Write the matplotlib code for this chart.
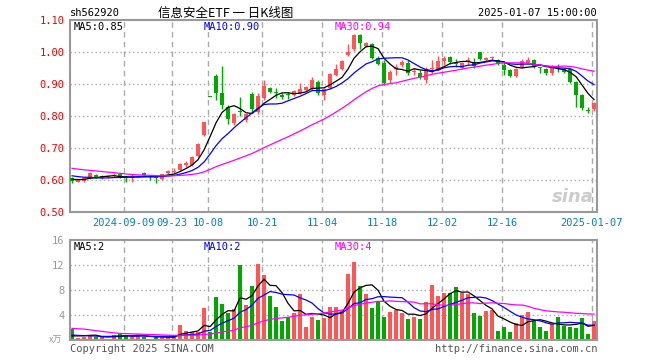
import numpy as np
import pandas as pd
import matplotlib
matplotlib.use('Agg')
import matplotlib.pyplot as plt

# trading days shown on the chart
dates = ['2024-08-27', '2024-08-28', '2024-08-29', '2024-08-30',
         '2024-09-02', '2024-09-03', '2024-09-04', '2024-09-05', '2024-09-06',
         '2024-09-09', '2024-09-10', '2024-09-11', '2024-09-12', '2024-09-13',
         '2024-09-18', '2024-09-19', '2024-09-20',
         '2024-09-23', '2024-09-24', '2024-09-25', '2024-09-26', '2024-09-27', '2024-09-30',
         '2024-10-08', '2024-10-09', '2024-10-10', '2024-10-11',
         '2024-10-14', '2024-10-15', '2024-10-16', '2024-10-17', '2024-10-18',
         '2024-10-21', '2024-10-22', '2024-10-23', '2024-10-24', '2024-10-25',
         '2024-10-28', '2024-10-29', '2024-10-30', '2024-10-31', '2024-11-01',
         '2024-11-04', '2024-11-05', '2024-11-06', '2024-11-07', '2024-11-08',
         '2024-11-11', '2024-11-12', '2024-11-13', '2024-11-14', '2024-11-15',
         '2024-11-18', '2024-11-19', '2024-11-20', '2024-11-21', '2024-11-22',
         '2024-11-25', '2024-11-26', '2024-11-27', '2024-11-28', '2024-11-29',
         '2024-12-02', '2024-12-03', '2024-12-04', '2024-12-05', '2024-12-06',
         '2024-12-09', '2024-12-10', '2024-12-11', '2024-12-12', '2024-12-13',
         '2024-12-16', '2024-12-17', '2024-12-18', '2024-12-19', '2024-12-20',
         '2024-12-23', '2024-12-24', '2024-12-25', '2024-12-26', '2024-12-27',
         '2024-12-30', '2024-12-31', '2025-01-02', '2025-01-03', '2025-01-06', '2025-01-07']

opens = [0.606, 0.596, 0.598, 0.606, 0.617, 0.606, 0.610, 0.612, 0.619, 0.611,
         0.608, 0.611, 0.623, 0.612, 0.611, 0.604, 0.622, 0.626, 0.632, 0.648,
         0.648, 0.676, 0.742, 0.859, 0.927, 0.874, 0.830, 0.780, 0.817, 0.790,
         0.870, 0.812, 0.857, 0.889, 0.873, 0.867, 0.868, 0.867, 0.872, 0.883,
         0.884, 0.906, 0.868, 0.890, 0.928, 0.948, 0.992, 1.009, 1.054, 1.020,
         1.026, 0.981, 0.966, 0.913, 0.947, 0.960, 0.968, 0.937, 0.936, 0.914,
         0.948, 0.947, 0.974, 0.984, 0.967, 0.950, 0.972, 0.970, 1.000, 0.976,
         0.982, 0.976, 0.960, 0.945, 0.926, 0.953, 0.966, 0.976, 0.952, 0.947,
         0.934, 0.951, 0.947, 0.947, 0.908, 0.867, 0.820, 0.822]
highs = [0.611, 0.605, 0.608, 0.626, 0.619, 0.617, 0.614, 0.624, 0.621, 0.612,
         0.620, 0.614, 0.625, 0.617, 0.613, 0.621, 0.632, 0.637, 0.653, 0.659,
         0.677, 0.716, 0.783, 0.859, 0.931, 0.957, 0.834, 0.811, 0.859, 0.810,
         0.877, 0.872, 0.914, 0.891, 0.888, 0.872, 0.877, 0.883, 0.905, 0.895,
         0.924, 0.915, 0.887, 0.934, 0.964, 0.975, 1.026, 1.056, 1.057, 1.032,
         1.030, 0.990, 0.975, 0.945, 0.962, 0.975, 0.975, 0.950, 0.945, 0.955,
         0.976, 0.990, 0.990, 0.990, 0.978, 0.970, 0.986, 0.983, 1.002, 0.985,
         0.990, 0.980, 0.970, 0.948, 0.950, 0.978, 0.986, 0.978, 0.955, 0.950,
         0.960, 0.965, 0.950, 0.950, 0.910, 0.870, 0.830, 0.845]
lows = [0.593, 0.594, 0.596, 0.604, 0.606, 0.604, 0.607, 0.609, 0.606, 0.596,
        0.596, 0.609, 0.614, 0.602, 0.593, 0.602, 0.620, 0.622, 0.630, 0.643,
        0.645, 0.672, 0.738, 0.859, 0.851, 0.823, 0.776, 0.772, 0.800, 0.783,
        0.815, 0.807, 0.851, 0.873, 0.857, 0.855, 0.853, 0.863, 0.870, 0.880,
        0.881, 0.868, 0.851, 0.885, 0.925, 0.945, 0.987, 1.005, 1.009, 1.017,
        0.978, 0.960, 0.898, 0.905, 0.928, 0.955, 0.930, 0.930, 0.918, 0.903,
        0.935, 0.944, 0.960, 0.962, 0.955, 0.948, 0.960, 0.950, 0.975, 0.972,
        0.975, 0.960, 0.930, 0.922, 0.922, 0.950, 0.963, 0.950, 0.935, 0.928,
        0.930, 0.940, 0.935, 0.903, 0.830, 0.820, 0.810, 0.818]
closes = [0.599, 0.603, 0.606, 0.624, 0.608, 0.615, 0.612, 0.614, 0.608, 0.606,
          0.611, 0.612, 0.616, 0.611, 0.608, 0.619, 0.630, 0.629, 0.651, 0.655,
          0.674, 0.714, 0.781, 0.859, 0.872, 0.835, 0.792, 0.808, 0.814, 0.807,
          0.823, 0.864, 0.895, 0.875, 0.872, 0.860, 0.866, 0.880, 0.884, 0.892,
          0.913, 0.872, 0.884, 0.931, 0.948, 0.973, 1.002, 1.054, 1.030, 1.029,
          0.981, 0.963, 0.903, 0.940, 0.955, 0.971, 0.934, 0.943, 0.922, 0.947,
          0.950, 0.974, 0.981, 0.971, 0.965, 0.966, 0.975, 0.957, 0.978, 0.981,
          0.985, 0.963, 0.945, 0.926, 0.947, 0.974, 0.976, 0.953, 0.950, 0.934,
          0.957, 0.949, 0.940, 0.908, 0.867, 0.825, 0.818, 0.843]
# volume in 万手
volumes = [1.8, 0.42, 0.6, 0.7, 0.6, 0.5, 0.27, 0.8, 1.0, 0.9,
           0.6, 0.75, 0.6, 0.27, 0.6, 0.5, 0.5, 0.7, 2.45, 1.55,
           1.4, 1.4, 5.2, 1.4, 6.9, 5.8, 4.4, 5.0, 12.0, 5.6,
           8.7, 12.2, 10.4, 7.05, 5.35, 3.1, 3.65, 4.4, 7.4, 2.2,
           3.8, 3.25, 3.6, 5.25, 5.35, 4.8, 10.65, 12.5, 8.65, 7.35,
           5.2, 6.3, 3.8, 4.55, 4.8, 4.4, 3.35, 3.8, 3.45, 6.15,
           8.85, 7.1, 7.6, 7.6, 8.55, 7.6, 7.35, 4.4, 3.9, 4.7,
           4.8, 1.55, 2.2, 1.4, 2.7, 4.0, 4.55, 3.05, 2.2, 1.55,
           2.55, 3.65, 2.35, 2.2, 2.0, 3.6, 1.05, 3.1]

# earlier sessions, estimated from where the MA lines start
prior_closes = [0.676, 0.672, 0.670, 0.668, 0.671, 0.667, 0.664, 0.669, 0.666, 0.667,
                0.640, 0.636, 0.634, 0.637, 0.633, 0.630, 0.622, 0.619, 0.621, 0.618,
                0.628, 0.626, 0.624, 0.625, 0.622, 0.607, 0.605, 0.603, 0.601]
prior_volumes = [2.0, 2.2, 4.4, 4.6, 4.0, 3.8, 4.1, 3.7, 1.9, 1.7,
                 1.5, 1.8, 1.6, 1.4, 1.7, 1.5, 1.8, 1.6, 1.7, 1.5,
                 1.1, 0.9, 1.0, 1.1, 0.9, 0.4, 0.45, 0.4, 0.45]

tick_dates = ['2024-09-09', '2024-09-23', '2024-10-08', '2024-10-21', '2024-11-04',
              '2024-11-18', '2024-12-02', '2024-12-16', '2025-01-07']
tick_labels = ['2024-09-09', '09-23', '10-08', '10-21', '11-04', '11-18', '12-02', '12-16', '2025-01-07']

RED = '#ff5555'
GREEN = '#00a800'
GRID = '#aaaaaa'
MONO = 'DejaVu Sans Mono'

n = len(dates)
x = np.arange(n)
o = np.array(opens); h = np.array(highs); l = np.array(lows); c = np.array(closes)
v = np.array(volumes)

all_c = pd.Series(prior_closes + closes)
all_v = pd.Series(prior_volumes + volumes)
k = len(prior_closes)
ma = {p: all_c.rolling(p).mean().values[k:] for p in (5, 10, 30)}
vma = {p: all_v.rolling(p).mean().values[k:] for p in (5, 10, 30)}

up = c > o
col = np.where(up, RED, GREEN)

W, H = 660, 360
fig = plt.figure(figsize=(6.6, 3.6), dpi=100)
ax = fig.add_axes([70 / W, 1 - 212.3 / H, 527 / W, 192 / H])
axv = fig.add_axes([70 / W, 1 - 340.3 / H, 527 / W, 100 / H])

tick_pos = [dates.index(d) - 0.35 for d in tick_dates]

# price panel
for y in [0.6, 0.7, 0.8, 0.9, 1.0]:
    ax.axhline(y, color=GRID, lw=1, ls=(0, (1, 2)), zorder=0)
for t in tick_pos:
    ax.axvline(t, color=GRID, lw=1, ls=(0, (4, 3)), zorder=0)
ax.vlines(x, l, h, colors=col, lw=1, zorder=2)
ax.bar(x, np.maximum(np.abs(c - o), 0.003), bottom=np.minimum(o, c), width=0.78,
       color=col, linewidth=0, zorder=3)
ax.plot(x, ma[5], color='black', lw=0.9, zorder=4)
ax.plot(x, ma[10], color='#0000ff', lw=0.9, zorder=4)
ax.plot(x, ma[30], color='#ff00ff', lw=0.9, zorder=4)
ax.set_xlim(-0.35, n - 0.5)
ax.set_ylim(0.5, 1.1)
ax.set_yticks([0.5, 0.6, 0.7, 0.8, 0.9, 1.0, 1.1])
ax.set_yticklabels(['%.2f' % t for t in ax.get_yticks()], color='#ee0000',
                   fontfamily=MONO, fontsize=7.5)
ax.set_xticks(tick_pos)
ax.set_xticklabels(tick_labels, color='#0a7ec2', fontfamily=MONO, fontsize=7.5)
ax.tick_params(length=0, pad=4)

# volume panel
for y in [4, 8, 12]:
    axv.axhline(y, color=GRID, lw=1, ls=(0, (1, 2)), zorder=0)
for t in tick_pos:
    axv.axvline(t, color=GRID, lw=1, ls=(0, (4, 3)), zorder=0)
axv.bar(x, v, width=0.78, color=col, linewidth=0, zorder=2)
axv.plot(x, vma[5], color='black', lw=0.9, zorder=4)
axv.plot(x, vma[10], color='#0000ff', lw=0.9, zorder=4)
axv.plot(x, vma[30], color='#ff00ff', lw=0.9, zorder=4)
axv.set_xlim(-0.35, n - 0.5)
axv.set_ylim(0, 16)
axv.set_yticks([4, 8, 12, 16])
axv.set_yticklabels(['4', '8', '12', '16'], color='#999999', fontfamily=MONO, fontsize=7.5)
axv.set_xticks([])
axv.tick_params(length=0, pad=4)

for a in (ax, axv):
    for s in a.spines.values():
        s.set_color('#999999')
        s.set_linewidth(1.5)
    a.set_facecolor('white')


def px(xp, yp, s, **kw):
    fig.text(xp / W, 1 - yp / H, s, va='center', **kw)


px(70, 13, 'sh562920', fontfamily=MONO, fontsize=7.5, color='black')
px(226, 13, '信息安全ETF 一 日K线图', ha='center', family=['Noto Sans CJK SC', 'DejaVu Sans'],
   fontsize=9, color='black')
px(597, 13, '2025-01-07 15:00:00', ha='right', fontfamily=MONO, fontsize=7.5, color='black')

px(74, 27, 'MA5:%.2f' % ma[5][-1], fontfamily=MONO, fontsize=7.5, color='black')
px(204, 27, 'MA10:%.2f' % ma[10][-1], fontfamily=MONO, fontsize=7.5, color='#0000ff')
px(335, 27, 'MA30:%.2f' % ma[30][-1], fontfamily=MONO, fontsize=7.5, color='#ff00ff')

px(74, 247, 'MA5:%.0f' % vma[5][-1], fontfamily=MONO, fontsize=7.5, color='black')
px(204, 247, 'MA10:%.0f' % vma[10][-1], fontfamily=MONO, fontsize=7.5, color='#0000ff')
px(335, 247, 'MA30:%.0f' % vma[30][-1], fontfamily=MONO, fontsize=7.5, color='#ff00ff')

px(49, 340, 'x万', family=['Noto Sans CJK SC', 'DejaVu Sans'], fontsize=6.5,
   color='#999999', style='italic')
px(70, 349, 'Copyright 2025 SINA.COM', fontfamily=MONO, fontsize=7.5, color='#555555')
px(597, 349, 'http://finance.sina.com.cn', ha='right', fontfamily=MONO, fontsize=7.5,
   color='#555555')
px(594, 197, 'sina', ha='right', fontsize=13, fontweight='bold', style='italic',
   color='#cccccc')

fig.savefig('out.png', dpi=100, facecolor='white')
